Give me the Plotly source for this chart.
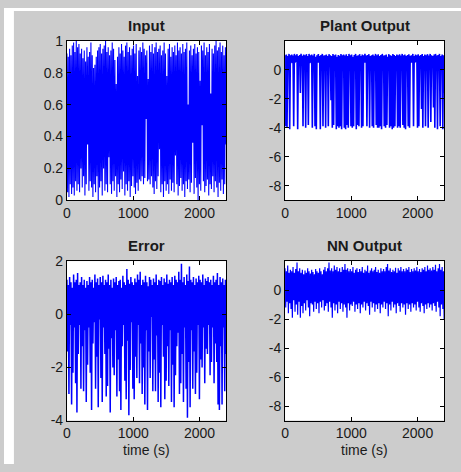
import plotly.graph_objects as go

W, H = 461, 472

# ---------------- data (zig-zag samples of dense signals) ----------------
input_vals = [
    0.92,0.05,0.9,0.02,0.95,0.1,0.91,0.04,0.97,0.08,
    0.99,0.03,0.93,0.12,1.0,0.06,0.96,0.1,0.98,0.05,
    0.92,0.2,0.95,0.08,0.89,0.15,0.94,0.03,0.87,0.1,
    0.96,0.35,0.9,0.06,0.93,0.12,0.99,0.08,0.91,0.02,
    0.83,0.1,0.85,0.05,0.9,0.15,0.94,0.0,0.96,0.08,
    0.98,0.12,0.92,0.03,0.95,0.2,0.97,0.06,1.0,0.1,
    0.93,0.05,0.96,0.27,0.91,0.1,0.94,0.04,0.99,0.12,
    0.95,0.06,0.88,0.15,0.73,0.02,0.9,0.1,0.96,0.05,
    0.92,0.13,0.98,0.07,0.94,0.18,0.9,0.03,0.97,0.1,
    0.99,0.06,0.93,0.12,0.96,0.02,0.91,0.09,0.95,0.15,
    0.97,0.08,0.92,0.04,0.98,0.11,0.78,0.06,0.94,0.13,
    0.96,0.12,0.93,0.15,0.99,0.1,0.95,0.14,0.91,0.51,
    0.94,0.12,0.76,0.13,0.97,0.1,0.93,0.15,0.98,0.08,
    0.92,0.04,0.96,0.12,0.99,0.07,0.93,0.15,0.95,0.32,
    0.97,0.05,0.91,0.1,0.94,0.02,0.99,0.12,0.92,0.06,
    0.78,0.1,0.95,0.04,0.98,0.13,0.9,0.06,0.96,0.11,
    0.93,0.05,0.97,0.28,0.91,0.1,0.99,0.03,0.94,0.09,
    0.96,0.14,0.92,0.06,0.98,0.1,0.93,0.02,0.95,0.12,
    0.99,0.07,0.6,0.13,0.94,0.05,0.97,0.11,0.91,0.36,
    0.95,0.04,0.98,0.14,0.92,0.08,0.96,0.0,0.93,0.1,
    0.75,0.06,0.97,0.47,0.94,0.12,0.99,0.05,0.91,0.09,
    0.96,0.13,0.93,0.03,0.98,0.1,0.67,0.07,0.95,0.15,
    0.92,0.05,0.97,0.12,1.0,0.08,0.94,0.02,0.96,0.11,
    0.99,0.06,0.93,0.13,0.97,0.04,0.91,0.1,0.96,0.35,
]

plant_vals = [
    1.0,-3.9,1.05,-4.0,0.95,0.5,1.1,-4.1,1.0,0.5,
    1.05,0.45,0.98,-3.9,1.1,0.5,1.0,0.55,1.08,-4.1,
    0.95,0.5,1.02,-1.6,1.1,0.5,0.97,-3.9,1.05,0.55,
    1.0,-4.0,1.08,0.5,0.95,-3.8,1.1,0.45,1.0,0.5,
    1.05,-4.0,0.98,0.5,1.1,-3.9,0.9,-4.1,1.0,0.5,
    1.08,0.5,0.95,-4.1,1.02,0.45,1.1,-3.9,0.98,0.5,
    1.0,-4.0,1.05,0.5,0.95,-3.9,1.08,0.5,1.0,-2.1,
    0.95,-4.0,1.1,-3.8,1.0,0.5,1.05,-4.1,0.9,-3.9,
    1.02,-4.0,0.97,-3.9,1.1,-4.1,1.0,0.5,1.05,-4.0,
    0.98,-4.1,1.08,-3.8,0.95,-4.0,1.1,0.5,1.0,-3.9,
    1.05,-4.0,0.9,-3.9,1.02,0.5,1.1,-4.1,0.97,-3.8,
    1.0,-3.9,1.08,0.5,0.95,-4.0,1.05,-3.9,1.0,0.5,
    1.1,0.5,0.98,-3.9,1.02,0.55,1.08,-4.0,0.95,0.5,
    1.0,-3.9,1.05,-4.0,0.97,0.5,1.1,-3.8,1.0,-4.0,
    1.08,-4.0,0.95,-3.9,1.02,-4.1,1.1,0.5,0.98,-3.9,
    1.0,-4.0,1.05,-3.8,0.9,0.5,1.08,-4.0,1.0,-3.9,
    0.97,-4.1,1.1,-4.0,1.02,-3.9,0.95,0.5,1.05,-4.0,
    1.0,-3.9,1.08,-4.0,0.98,0.5,1.1,-3.8,1.0,-4.0,
    1.05,-4.1,0.95,0.5,1.02,-3.9,1.08,-4.0,0.97,0.5,
    1.0,0.5,1.1,-3.9,0.95,0.5,1.05,0.55,1.0,-4.0,
    1.08,-3.9,0.97,0.5,1.02,-2.7,1.1,-4.0,0.95,0.5,
    1.05,-3.9,1.0,0.55,1.08,-4.0,0.98,0.5,1.1,-3.6,
    1.0,0.5,0.95,-2.6,1.05,-4.0,1.1,0.5,0.98,-4.1,
    1.02,0.5,1.1,-3.9,0.95,0.55,1.05,-4.1,1.0,-1.6,
]

error_vals = [
    1.3,-1.4,1.1,-3.0,1.4,-0.4,1.2,-3.4,1.0,-2.2,
    1.5,-0.5,1.2,-2.6,1.3,-3.7,1.55,-1.5,1.1,-0.4,
    1.2,-2.8,1.4,-1.2,1.1,-2.9,1.3,-0.6,1.0,-3.3,
    1.25,-1.9,1.1,-0.5,1.4,-2.2,1.2,-3.6,1.3,-1.1,
    1.0,-0.3,1.5,-2.8,1.2,-1.6,1.35,-3.5,1.1,-0.2,
    1.4,-2.4,1.2,-3.3,1.45,-0.5,1.1,-1.5,1.3,-3.1,
    1.2,-2.7,1.5,-1.3,1.1,-3.7,1.3,-0.9,1.0,-2.0,
    1.35,-2.3,1.2,-0.6,1.4,-3.1,1.1,-1.7,1.25,-2.9,
    1.3,-3.6,1.0,-1.2,1.45,-0.4,1.2,-2.5,1.1,-3.2,
    1.7,-1.0,1.3,-3.8,1.15,-2.1,1.4,-0.3,1.2,-2.8,
    1.1,-3.2,1.35,-1.6,1.2,-2.4,1.5,-0.4,1.3,-2.6,
    1.6,-1.1,1.1,-3.0,1.3,-2.0,1.2,-3.4,1.45,-0.6,
    1.2,-3.6,1.05,-1.4,1.4,-2.4,1.3,-0.1,1.1,-2.9,
    1.35,-1.7,1.2,-2.9,1.5,-0.8,1.1,-3.3,1.3,-2.2,
    1.25,-3.5,1.4,-0.4,1.1,-1.6,1.35,-3.2,1.2,-2.5,
    1.5,-1.2,1.15,-2.7,1.3,-0.6,1.2,-3.3,1.4,-1.9,
    1.1,-3.5,1.45,-2.3,1.3,-1.2,1.2,-0.7,1.6,-3.0,
    1.3,-2.6,1.9,-1.5,1.2,-3.3,1.4,-0.5,1.1,-2.8,
    1.5,-3.9,1.25,-1.8,1.8,-3.5,1.3,-0.6,1.2,-2.8,
    1.4,-1.4,1.1,-3.0,1.35,-2.2,1.2,-0.4,1.45,-3.2,
    1.3,-1.7,1.2,-2.0,1.5,-0.5,1.1,-2.6,1.35,-1.3,
    1.25,-1.5,1.4,-0.4,1.2,-2.3,1.3,-1.8,1.1,-0.5,
    1.45,-2.6,1.2,-1.1,1.3,-1.8,1.55,-3.4,1.1,-3.6,
    1.4,-1.2,1.2,-3.4,1.35,-0.5,1.1,-2.9,1.3,-1.5,
]

nn_vals = [
    1.5,-1.2,1.3,-0.8,1.7,-1.6,1.2,-0.9,1.4,-1.3,
    1.3,-1.9,1.6,-0.7,1.2,-1.5,1.45,-1.0,1.9,-1.7,
    1.3,-0.8,1.5,-1.9,1.2,-1.1,1.4,-1.6,1.1,-0.9,
    1.35,-1.4,1.2,-0.7,1.5,-1.2,1.3,-1.8,1.15,-0.9,
    1.4,-1.0,1.25,-1.5,1.1,-0.8,1.45,-1.3,1.3,-0.9,
    1.2,-1.6,1.5,-0.8,1.3,-1.2,1.1,-0.7,1.4,-1.4,
    1.6,-1.1,1.3,-0.9,1.5,-1.5,1.9,-0.8,1.35,-1.2,
    1.5,-1.9,1.3,-0.9,1.7,-1.4,1.4,-1.0,1.6,-1.6,
    1.3,-0.8,1.5,-1.3,1.25,-0.9,1.6,-1.5,1.4,-1.0,
    1.8,-1.2,1.4,-1.9,1.5,-0.9,1.3,-1.4,1.45,-1.0,
    1.3,-1.1,1.6,-0.8,1.2,-1.5,1.4,-1.0,1.5,-1.3,
    1.25,-0.9,1.45,-1.6,1.3,-1.0,1.6,-1.2,1.2,-0.8,
    1.4,-1.4,1.3,-0.9,1.7,-1.1,1.2,-1.7,1.35,-0.8,
    1.5,-1.2,1.3,-0.9,1.4,-1.5,1.6,-1.0,1.25,-1.3,
    1.4,-0.9,1.2,-1.6,1.5,-1.0,1.3,-1.2,1.45,-0.8,
    1.3,-1.3,1.6,-0.9,1.8,-1.8,1.35,-1.0,1.5,-1.4,
    1.25,-0.8,1.4,-1.2,1.3,-1.0,1.55,-1.6,1.2,-0.9,
    1.5,-1.1,1.35,-1.5,1.6,-0.9,1.3,-1.2,1.45,-1.0,
    1.3,-1.7,1.5,-0.9,1.4,-1.3,1.6,-1.0,1.25,-1.5,
    1.45,-0.9,1.3,-1.2,1.5,-1.0,1.35,-1.4,1.6,-0.8,
    1.3,-1.2,1.45,-1.5,1.25,-0.9,1.5,-1.1,1.4,-1.6,
    1.6,-1.0,1.3,-1.3,1.7,-0.9,1.4,-1.2,1.5,-1.0,
    1.35,-1.4,1.6,-0.9,1.4,-1.1,1.75,-1.5,1.3,-0.8,
    1.5,-1.2,1.8,-1.8,1.4,-1.0,1.6,-1.3,1.3,-2.0,
]

titles = ["Input", "Plant Output", "Error", "NN Output"]
x_range = [0, 2400]
x_ticks = [0, 1000, 2000]
x_ticktext = ["0", "1000", "2000"]
input_ticks = [0, 0.2, 0.4, 0.6, 0.8, 1]
input_ticktext = ["0", "0.2", "0.4", "0.6", "0.8", "1"]
out_ticks = [0, -2, -4, -6, -8]
out_ticktext = ["0", "-2", "-4", "-6", "-8"]
err_ticks = [-4, -2, 0, 2]
err_ticktext = ["-4", "-2", "0", "2"]
xlabel = "time (s)"

# ---------------- layout helpers (pixel boxes) ----------------
FONT = "Liberation Sans, Arial, sans-serif"
TXT = "#1a1a1a"

def px_dom_x(a, b):
    return [a / W, b / W]

def px_dom_y(top, bottom):
    return [1 - bottom / H, 1 - top / H]

boxes = {
    1: (63.5, 224, 34, 199),
    2: (283.5, 444, 34, 199),
    3: (63.5, 224, 262, 427),
    4: (283.5, 444, 262, 427),
}
title_y = {1: 18, 2: 18, 3: 246, 4: 246}
line_w = {1: 1.1, 2: 1.6, 3: 1.5, 4: 1.2}

series = [input_vals, plant_vals, error_vals, nn_vals]
yconf = [
    ([0, 1], input_ticks, input_ticktext),
    ([-9, 2], out_ticks, out_ticktext),
    ([-4, 2], err_ticks, err_ticktext),
    ([-9, 2], out_ticks, out_ticktext),
]

fig = go.Figure()
layout = dict(
    width=W, height=H,
    margin=dict(l=0, r=0, t=0, b=0),
    paper_bgcolor="#cccccc",
    plot_bgcolor="white",
    showlegend=False,
    font=dict(family=FONT, size=14, color=TXT),
)
annotations = []
for k in range(1, 5):
    vals = series[k - 1]
    n = len(vals)
    xs = [x_range[1] * i / (n - 1) for i in range(n)]
    xa = "x" if k == 1 else f"x{k}"
    ya = "y" if k == 1 else f"y{k}"
    fig.add_trace(go.Scatter(x=xs, y=vals, mode="lines",
                             line=dict(color="#0000ff", width=line_w[k], simplify=False),
                             xaxis=xa, yaxis=ya, hoverinfo="skip"))
    l, r, t, b = boxes[k]
    yr, yt, ytt = yconf[k - 1]
    common = dict(showline=True, linecolor="black", linewidth=1, mirror="ticks",
                  ticks="inside", ticklen=4, tickcolor="black", showgrid=False,
                  zeroline=False, tickfont=dict(family=FONT, size=14, color=TXT))
    layout["xaxis" if k == 1 else f"xaxis{k}"] = dict(
        domain=px_dom_x(l, r), range=x_range, tickvals=x_ticks, ticktext=x_ticktext,
        anchor=ya, **common)
    layout["yaxis" if k == 1 else f"yaxis{k}"] = dict(
        domain=px_dom_y(t, b), range=yr, tickvals=yt, ticktext=ytt,
        anchor=xa, **common)
    annotations.append(dict(text=f"<b>{titles[k-1]}</b>", x=(l + r) / 2 / W,
                            y=1 - title_y[k] / H, xref="paper", yref="paper",
                            xanchor="center", yanchor="middle", showarrow=False,
                            font=dict(family=FONT, size=15, color=TXT)))
    if k >= 3:
        annotations.append(dict(text=xlabel, x=(l + r) / 2 / W, y=1 - 457.5 / H,
                                xref="paper", yref="paper", xanchor="center",
                                yanchor="middle", showarrow=False,
                                font=dict(family=FONT, size=14, color=TXT)))

layout["annotations"] = annotations
layout["shapes"] = [
    dict(type="rect", xref="paper", yref="paper", x0=0, x1=10 / W, y0=0, y1=1,
         fillcolor="white", line=dict(width=0)),
    dict(type="rect", xref="paper", yref="paper", x0=0, x1=1, y0=1 - 3 / H, y1=1,
         fillcolor="white", line=dict(width=0)),
]
fig.update_layout(**layout)
fig.write_html("out.html")
